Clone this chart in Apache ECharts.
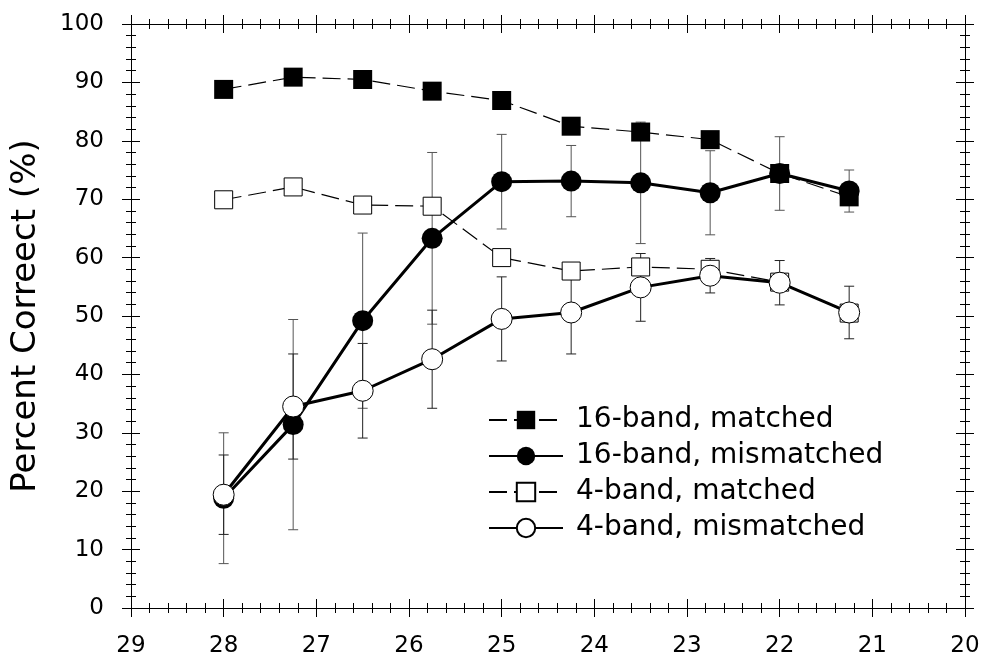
<!DOCTYPE html>
<html>
<head>
<meta charset="utf-8">
<title>Percent Correct</title>
<script src="https://cdn.jsdelivr.net/npm/echarts@6/dist/echarts.min.js"></script>
<style>
    html, body { margin: 0; padding: 0; background: #fff; }
    #chart { width: 983px; height: 658px; }
</style>
</head>
<body>
<div id="chart"></div>
<script>
// x positions (axis runs from 29 down to 20)
const xValues = [28, 27.25, 26.5, 25.75, 25, 24.25, 23.5, 22.75, 22, 21.25];
const xTicks = [20, 21, 22, 23, 24, 25, 26, 27, 28, 29];
const yTicks = [0, 10, 20, 30, 40, 50, 60, 70, 80, 90, 100];

const seriesNames = ['16-band, matched', '16-band, mismatched', '4-band, matched', '4-band, mismatched'];

const band16Matched = [88.8, 90.9, 90.5, 88.5, 86.9, 82.5, 81.5, 80.2, 74.4, 70.4];
const band16Mismatched = [18.8, 31.4, 49.2, 63.3, 73.0, 73.1, 72.8, 71.1, 74.4, 71.4];
const band16MismatchedErr = [11.2, 18.0, 15.0, 14.7, 8.1, 6.1, 10.4, 7.2, 6.3, 3.6];
const band4Matched = [69.9, 72.1, 69.0, 68.8, 60.0, 57.7, 58.4, 58.0, 55.8, 50.5];
const band4Mismatched = [19.4, 34.5, 37.2, 42.6, 49.5, 50.6, 54.9, 56.9, 55.7, 50.6];
const band4MismatchedErr = [6.8, 9.0, 8.1, 8.4, 7.2, 7.1, 5.8, 2.95, 3.8, 4.5];

const FONT = '"DejaVu Sans", Verdana, sans-serif';

const pairs = (ys) => xValues.map((x, i) => [x, ys[i]]);
const errRows = (ys, errs) => xValues.map((x, i) => [x, ys[i] - errs[i], ys[i] + errs[i]]);

function renderErrorBar(params, api) {
    const x = api.value(0);
    const lo = api.coord([x, api.value(1)]);
    const hi = api.coord([x, api.value(2)]);
    const half = 5;
    const style = { stroke: params.seriesIndex === 0 ? '#555' : '#222', lineWidth: 1 };
    return {
        type: 'group',
        children: [
            { type: 'line', shape: { x1: hi[0], y1: hi[1], x2: lo[0], y2: lo[1] }, style: style },
            { type: 'line', shape: { x1: hi[0] - half, y1: hi[1], x2: hi[0] + half, y2: hi[1] }, style: style },
            { type: 'line', shape: { x1: lo[0] - half, y1: lo[1], x2: lo[0] + half, y2: lo[1] }, style: style }
        ]
    };
}

// one axis per side and tick direction, so the ticks cross the frame
function makeX(position, inside, labels) {
    return {
        type: 'value', position: position, inverse: true,
        min: xTicks[0], max: xTicks[xTicks.length - 1], interval: 1,
        axisLine: { show: true, onZero: false, lineStyle: { color: '#000', width: 1 } },
        axisTick: { show: true, inside: inside, length: 9, lineStyle: { color: '#000' } },
        minorTick: { show: true, splitNumber: 5, length: 5, lineStyle: { color: '#000' } },
        axisLabel: { show: labels, color: '#000', fontSize: 23, fontFamily: FONT, margin: 27 },
        splitLine: { show: false }
    };
}

function makeY(position, inside, labels) {
    const axis = {
        type: 'value', position: position,
        min: yTicks[0], max: yTicks[yTicks.length - 1], interval: 10,
        axisLine: { show: true, onZero: false, lineStyle: { color: '#000', width: 1 } },
        axisTick: { show: true, inside: inside, length: 9, lineStyle: { color: '#000' } },
        minorTick: { show: true, splitNumber: 5, length: 5, lineStyle: { color: '#000' } },
        axisLabel: { show: labels, color: '#000', fontSize: 23, fontFamily: FONT, margin: 27 },
        splitLine: { show: false }
    };
    if (labels) {
        axis.name = 'Percent Correect (%)';
        axis.nameLocation = 'middle';
        axis.nameRotate = 90;
        axis.nameGap = 88;
        axis.nameTextStyle = { color: '#000', fontSize: 34, fontFamily: FONT };
    }
    return axis;
}

const dashed = { color: '#000', width: 1.2, type: [18, 7] };
const thick = { color: '#000', width: 3 };

const chart = echarts.init(document.getElementById('chart'));
chart.setOption({
    animation: false,
    backgroundColor: '#fff',
    grid: { left: 131, right: 18, top: 24, bottom: 50 },
    xAxis: [makeX('bottom', false, true), makeX('bottom', true, false), makeX('top', true, false), makeX('top', false, false)],
    yAxis: [makeY('left', false, true), makeY('left', true, false), makeY('right', true, false), makeY('right', false, false)],
    legend: {
        orient: 'vertical',
        left: 483, top: 401,
        itemWidth: 74, itemHeight: 23, itemGap: 8,
        data: seriesNames,
        textStyle: { color: '#000', fontSize: 28, lineHeight: 28, fontFamily: FONT, padding: [0, 0, 0, 8] }
    },
    series: [
        {
            type: 'custom', name: 'err16', renderItem: renderErrorBar, z: 1,
            encode: { x: 0, y: [1, 2] },
            data: errRows(band16Mismatched, band16MismatchedErr)
        },
        {
            type: 'custom', name: 'err4', renderItem: renderErrorBar, z: 1,
            encode: { x: 0, y: [1, 2] },
            data: errRows(band4Mismatched, band4MismatchedErr)
        },
        {
            name: seriesNames[0], type: 'line', z: 3,
            data: pairs(band16Matched),
            symbol: 'rect', symbolSize: 19,
            lineStyle: dashed,
            itemStyle: { color: '#000', borderColor: '#000', borderWidth: 0 }
        },
        {
            name: seriesNames[1], type: 'line', z: 4,
            data: pairs(band16Mismatched),
            symbol: 'circle', symbolSize: 21,
            lineStyle: thick,
            itemStyle: { color: '#000', borderColor: '#000', borderWidth: 0 }
        },
        {
            name: seriesNames[2], type: 'line', z: 5,
            data: pairs(band4Matched),
            symbol: 'rect', symbolSize: 18,
            lineStyle: dashed,
            itemStyle: { color: '#fff', borderColor: '#000', borderWidth: 1 }
        },
        {
            name: seriesNames[3], type: 'line', z: 6,
            data: pairs(band4Mismatched),
            symbol: 'circle', symbolSize: 21,
            lineStyle: thick,
            itemStyle: { color: '#fff', borderColor: '#000', borderWidth: 1 }
        }
    ]
});
</script>
</body>
</html>
